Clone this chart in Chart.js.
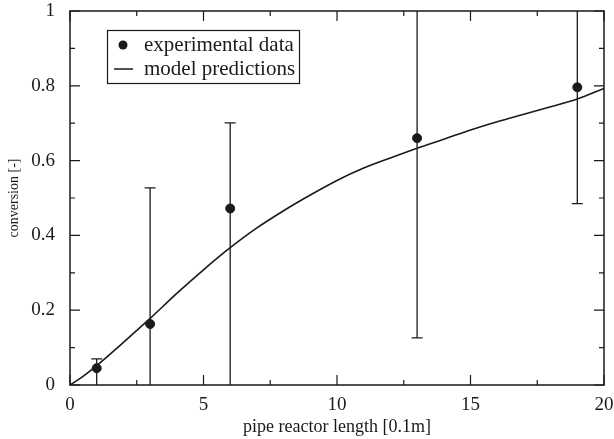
<!DOCTYPE html>
<html>
<head>
<meta charset="utf-8">
<script src="https://cdn.jsdelivr.net/npm/chart.js@4.4.1/dist/chart.umd.min.js"></script>
<style>
    body { margin: 0; background: #fff; }
    #wrap { width: 614px; height: 439px; }
</style>
</head>
<body>
<div id="wrap"><canvas id="chart-conversion" width="614" height="439"></canvas></div>
<script>
// Datos experimentales (puntos con barras de error)
const expX = [1, 3, 6, 13, 19];
const expY = [0.045, 0.163, 0.472, 0.66, 0.796];
const errLow = [-0.05, -0.05, -0.05, 0.126, 0.485];
const errHigh = [0.07, 0.527, 0.701, 1.05, 1.05];

// Curva del modelo
const modelX = [0, 0.5, 1, 2, 3, 4, 5, 6, 7, 8, 9, 10, 11, 12, 13, 14, 15, 16, 17, 18, 19, 20];
const modelY = [0, 0.024, 0.052, 0.114, 0.178, 0.245, 0.308, 0.367, 0.42, 0.466, 0.508, 0.547, 0.58, 0.607, 0.633, 0.657, 0.682, 0.704, 0.724, 0.744, 0.765, 0.793];

// Ticks
const xTicks = [0, 5, 10, 15, 20];
const yTicks = [0, 0.2, 0.4, 0.6, 0.8, 1];

const legendLabels = ['experimental data', 'model predictions'];

const serif = '"Liberation Serif", "DejaVu Serif", serif';
const ink = '#1a1a1a';

// Marco, ticks hacia adentro, barras de error y leyenda
const framePlugin = {
    id: 'frame',
    beforeDatasetsDraw(chart) {
        const ctx = chart.ctx;
        const area = chart.chartArea;
        const xs = chart.scales.x;
        const ys = chart.scales.y;
        ctx.save();
        ctx.beginPath();
        ctx.rect(area.left, area.top, area.right - area.left, area.bottom - area.top);
        ctx.clip();
        ctx.strokeStyle = ink;
        ctx.lineWidth = 1.3;
        for (let i = 0; i < expX.length; i++) {
            const px = xs.getPixelForValue(expX[i]);
            const lo = ys.getPixelForValue(errLow[i]);
            const hi = ys.getPixelForValue(errHigh[i]);
            ctx.beginPath();
            ctx.moveTo(px, lo);
            ctx.lineTo(px, hi);
            ctx.moveTo(px - 5.5, lo);
            ctx.lineTo(px + 5.5, lo);
            ctx.moveTo(px - 5.5, hi);
            ctx.lineTo(px + 5.5, hi);
            ctx.stroke();
        }
        ctx.restore();
    },
    afterDatasetsDraw(chart) {
        const ctx = chart.ctx;
        const area = chart.chartArea;
        const xs = chart.scales.x;
        const ys = chart.scales.y;
        ctx.save();
        ctx.strokeStyle = ink;
        ctx.lineWidth = 1.5;
        ctx.strokeRect(area.left, area.top, area.right - area.left, area.bottom - area.top);

        ctx.lineWidth = 1.2;
        ctx.beginPath();
        for (let v = 0; v <= 20; v += 2.5) {
            const px = xs.getPixelForValue(v);
            const len = v % 5 === 0 ? 10 : 5;
            ctx.moveTo(px, area.bottom);
            ctx.lineTo(px, area.bottom - len);
            ctx.moveTo(px, area.top);
            ctx.lineTo(px, area.top + len);
        }
        for (let k = 0; k <= 10; k++) {
            const py = ys.getPixelForValue(k / 10);
            const len = k % 2 === 0 ? 10 : 5;
            ctx.moveTo(area.left, py);
            ctx.lineTo(area.left + len, py);
            ctx.moveTo(area.right, py);
            ctx.lineTo(area.right - len, py);
        }
        ctx.stroke();

        // Leyenda
        ctx.lineWidth = 1.2;
        ctx.strokeRect(107.5, 30.5, 192, 53);
        ctx.fillStyle = ink;
        ctx.beginPath();
        ctx.arc(123, 45, 4.5, 0, Math.PI * 2);
        ctx.fill();
        ctx.lineWidth = 1.5;
        ctx.beginPath();
        ctx.moveTo(114, 69);
        ctx.lineTo(133, 69);
        ctx.stroke();
        ctx.font = '21px ' + serif;
        ctx.textBaseline = 'alphabetic';
        ctx.textAlign = 'left';
        ctx.fillText(legendLabels[0], 144, 51);
        ctx.fillText(legendLabels[1], 144, 75);
        ctx.restore();
    }
};

// Sin relleno extra por las etiquetas de los extremos
function fixPadding(scale) {
    scale.paddingTop = 0;
    scale.paddingBottom = 0;
    scale.paddingLeft = 0;
    scale.paddingRight = 0;
}

const ctx = document.getElementById('chart-conversion').getContext('2d');
const chart = new Chart(ctx, {
    type: 'scatter',
    data: {
        datasets: [
            {
                label: legendLabels[0],
                data: expX.map((x, i) => ({ x: x, y: expY[i] })),
                backgroundColor: ink,
                borderColor: ink,
                pointRadius: 4.5,
                pointHoverRadius: 4.5,
            },
            {
                label: legendLabels[1],
                data: modelX.map((x, i) => ({ x: x, y: modelY[i] })),
                showLine: true,
                borderColor: ink,
                borderWidth: 1.6,
                pointRadius: 0,
                cubicInterpolationMode: 'monotone',
                fill: false,
            }
        ]
    },
    options: {
        responsive: false,
        animation: false,
        layout: { padding: { top: 11, right: 10, left: 0, bottom: 0 } },
        plugins: {
            legend: { display: false },
            tooltip: { enabled: false },
        },
        scales: {
            x: {
                type: 'linear',
                min: 0,
                max: 20,
                afterBuildTicks: (scale) => { scale.ticks = xTicks.map((v) => ({ value: v })); },
                afterFit: (scale) => { scale.height = 54; fixPadding(scale); },
                grid: { display: false },
                border: { display: false },
                ticks: {
                    color: ink, padding: 1, maxRotation: 0,
                    font: { family: serif, size: 19 },
                    callback: (v) => String(v),
                },
                title: {
                    display: true,
                    text: 'pipe reactor length [0.1m]',
                    color: ink,
                    font: { family: serif, size: 18 },
                    padding: { top: 0, bottom: 1 },
                }
            },
            y: {
                min: 0,
                max: 1,
                afterBuildTicks: (scale) => { scale.ticks = yTicks.map((v) => ({ value: v })); },
                afterFit: (scale) => { scale.width = 70; fixPadding(scale); },
                grid: { display: false },
                border: { display: false },
                ticks: {
                    color: ink, padding: 7,
                    font: { family: serif, size: 19 },
                    callback: (v) => String(v),
                },
                title: {
                    display: true,
                    text: 'conversion [-]',
                    color: ink,
                    font: { family: serif, size: 14 },
                    padding: { top: 6, bottom: 0 },
                }
            }
        }
    },
    plugins: [framePlugin]
});
</script>
</body>
</html>
